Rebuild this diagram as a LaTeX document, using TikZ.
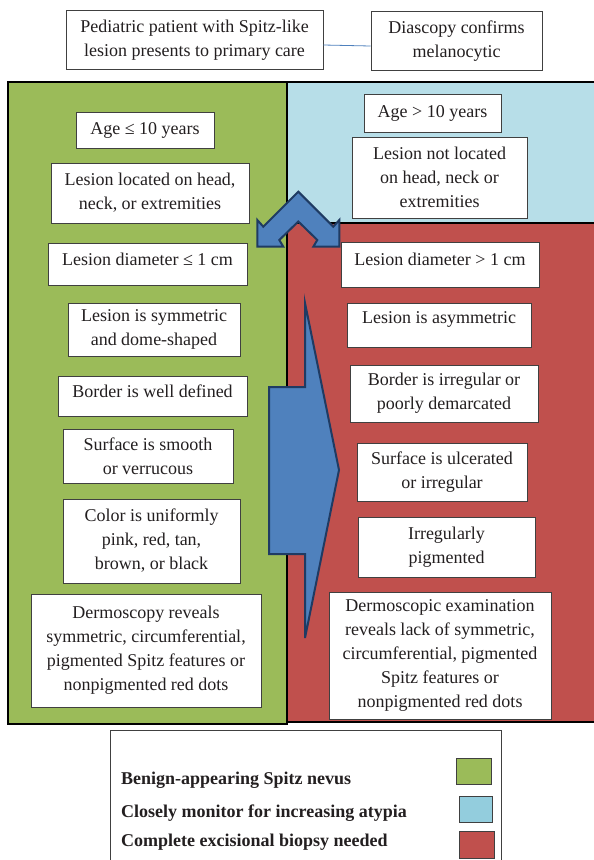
\documentclass[tikz,border=0pt]{standalone}
\usepackage{fontspec}
\setmainfont{Liberation Serif}
\definecolor{greenP}{HTML}{9BBB59}
\definecolor{blueP}{HTML}{B7DEE8}
\definecolor{blueL}{HTML}{93CDDD}
\definecolor{redP}{HTML}{C0504D}
\definecolor{arrowF}{HTML}{4F81BD}
\definecolor{arrowD}{HTML}{1F3B63}
\definecolor{boxG}{HTML}{404040}
\definecolor{txt}{HTML}{231F20}
\tikzset{
  wbox/.style={draw=boxG, fill=white, line width=0.9pt, align=center, inner sep=0pt,
               text=txt, font=\fontsize{18}{24}\selectfont},
  raised/.style={text depth=#1},
  panel/.style={draw=black, line width=1.3pt},
  bigarrow/.style={fill=arrowF, draw=arrowD, line width=2pt, line join=miter},
  conn/.style={draw=arrowF, line width=0.8pt},
  legtext/.style={anchor=base west, inner sep=0pt, text=txt, font=\fontsize{18}{24}\selectfont\bfseries},
  swatch/.style={draw=boxG, line width=0.9pt, inner sep=0pt}
}
\newcommand{\mybox}[7][]{\node[wbox, minimum width=#5pt, minimum height=#6pt, #1] (#2) at (#3,#4) {#7};}
\begin{document}
\begin{tikzpicture}[x=1pt,y=-1pt]
\useasboundingbox (0,0) rectangle (594,860);
\fill[white] (0,0) rectangle (594,860);
% panels
\filldraw[panel, fill=greenP] (8,82) rectangle (287,724);
\filldraw[panel, fill=blueP] (287,82) rectangle (600,223);
\filldraw[panel, fill=redP] (287,223) rectangle (600,722);
% arrows
\filldraw[bigarrow] (298.3,191.7) -- (263.3,226.7) -- (257.3,220) -- (257.3,246.7) -- (283.3,246.7)
  -- (279.3,240) -- (298.3,221.5) -- (317.3,240) -- (313.3,246.7) -- (339.3,246.7) -- (339.3,220)
  -- (333.3,226.7) -- cycle;
\filldraw[bigarrow] (305,303) -- (339,470) -- (305,638) -- (305,554) -- (269,554) -- (269,387) -- (305,387) -- cycle;
% top boxes
\mybox{t1}{194.5}{40}{257}{59}{Pediatric patient with Spitz-like\\lesion presents to primary care}
\mybox{t2}{456.5}{41}{171}{59}{Diascopy confirms\\melanocytic}
\draw[conn] ([yshift=-5pt]t1.east) -- ([yshift=-5pt]t2.west);
% left column
\mybox{l1}{145}{130}{138}{36}{Age ≤ 10 years}
\mybox{l2}{150}{193}{198}{60}{Lesion located on head,\\neck, or extremities}
\mybox[raised=10pt]{l3}{147.5}{264}{199}{42}{Lesion diameter ≤ 1 cm}
\mybox{l4}{154}{329.5}{172}{53}{Lesion is symmetric\\and dome-shaped}
\mybox[raised=10pt]{l5}{152.5}{396}{189}{40}{Border is well defined}
\mybox{l6}{148}{456}{170}{54}{Surface is smooth\\or verrucous}
\mybox{l7}{151.5}{541}{177}{84}{Color is uniformly\\pink, red, tan,\\brown, or black}
\mybox{l8}{146}{650.5}{230}{113}{Dermoscopy reveals\\symmetric, circumferential,\\pigmented Spitz features or\\nonpigmented red dots}
% right column
\mybox{r1}{432.5}{113}{137}{38}{Age > 10 years}
\mybox{r2}{439.5}{177.5}{175}{81}{Lesion not located\\on head, neck or\\extremities}
\mybox[raised=10pt]{r3}{440}{264.5}{198}{45}{Lesion diameter > 1 cm}
\mybox[raised=14pt]{r4}{439}{325}{184}{44}{Lesion is asymmetric}
\mybox{r5}{444}{393.5}{188}{57}{Border is irregular or\\poorly demarcated}
\mybox{r6}{442}{472}{170}{58}{Surface is ulcerated\\or irregular}
\mybox{r7}{446.5}{547}{177}{60}{Irregularly\\pigmented}
\mybox{r8}{440}{655.5}{222}{127}{Dermoscopic examination\\reveals lack of symmetric,\\circumferential, pigmented\\Spitz features or\\nonpigmented red dots}
% legend
\draw[draw=boxG, line width=0.9pt] (110,870) -- (110,730) -- (501,730) -- (501,870);
\node[legtext] (lg1) at (121,784) {Benign-appearing Spitz nevus};
\node[legtext] (lg2) at (121,817) {Closely monitor for increasing atypia};
\node[legtext] (lg3) at (121,846) {Complete excisional biopsy needed};
\node[swatch, fill=greenP, minimum width=35pt, minimum height=26pt] (sw1) at (473.5,771) {};
\node[swatch, fill=blueL, minimum width=33pt, minimum height=26pt] (sw2) at (475.5,809) {};
\node[swatch, fill=redP, minimum width=35pt, minimum height=27pt] (sw3) at (476.5,844.5) {};
\end{tikzpicture}
\end{document}
